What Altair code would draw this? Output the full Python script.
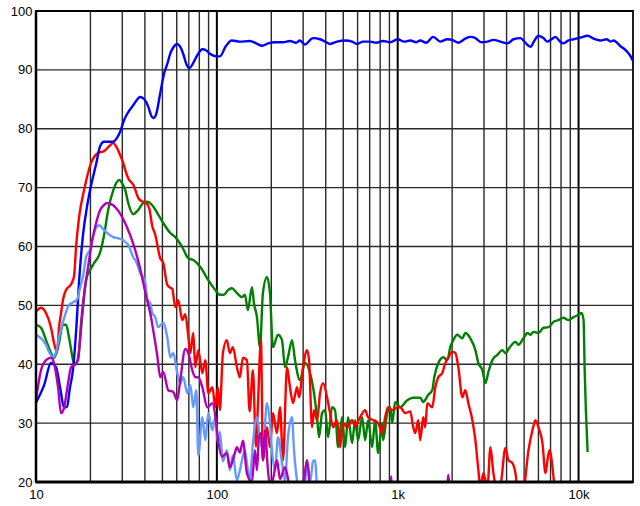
import altair as alt
import pandas as pd

# ---- frequency response curves (Hz, dB) ----
blue_hz = [10, 11.1, 12.1, 12.9, 13.6, 14.3, 14.85, 15.4, 16.0, 16.7, 17.3, 18.2, 19.2, 20.2, 21.5, 22.6,
           23.8, 25.1, 26.7, 28.1, 29.2, 30.7, 31.9, 34.5, 37.7, 39.7, 41.7, 43.4, 44.5, 46.2, 48.6, 51.2,
           53.2, 55.3, 57.4, 60.4, 62.8, 65.2, 67.8, 70.4, 74.1, 78.0, 83.1, 87.4, 92.0, 99.4,
           104, 112, 121, 134, 152, 165, 178, 192, 210, 232, 254, 274, 288, 307, 340, 372, 397, 423,
           462, 512, 560, 596, 644, 704, 760, 831, 909,
           1000, 1087, 1173, 1266, 1332, 1438, 1573, 1720, 1880, 2030, 2164, 2366, 2522, 2688, 2902,
           3133, 3382, 3698, 4042, 4364, 4771, 5085, 5420, 5704, 6002, 6397, 6732, 7085, 7455, 7846,
           8256, 8800, 9380, 10260, 11220, 12110, 13240, 14290, 15040, 15630, 16450, 17090, 17980,
           18680, 19410, 20000]
blue_db = [33.5, 36.5, 40.2, 39.5, 36, 32.6, 32.8, 36, 39, 46, 54, 62, 67, 70.5, 74, 77,
           77.8, 77.8, 77.8, 78.5, 79.5, 81.5, 82.5, 84, 85.4, 85, 83.8, 82.2, 81.8, 82.5, 86, 89.5,
           91, 92.8, 93.8, 94.4, 93.9, 92.7, 91, 90.3, 91.2, 92.5, 93.5, 93.3, 92.7, 92.3,
           92.3, 94, 95, 94.8, 94.9, 94.5, 94.1, 94.5, 94.7, 94.7, 94.9, 94.6, 95, 94.3, 95.4, 95.2, 94.8, 94.4,
           94.8, 95, 94.8, 94.4, 94.8, 94.8, 94.6, 94.9, 94.7,
           95.2, 94.8, 95, 94.7, 95, 94.6, 95.6, 94.8, 95.2, 95, 94.6, 95.3, 95.6, 95.4, 94.7,
           94.8, 95.1, 94.8, 94.5, 95.2, 95.4, 94.6, 93.9, 95, 95.8, 95.4, 94.8, 95.2, 95.6, 94.9,
           94.5, 95, 95.2, 95.5, 95.8, 95.3, 95, 95.2, 94.8, 95, 94.5, 94, 93.5,
           93, 92.3, 91.5]

red_hz = [10, 10.66, 11.36, 12.11, 12.58, 13.07, 13.41, 13.76, 14.11, 14.66, 15.63, 16.24, 16.66, 17.31,
          18.45, 20.17, 22.06, 23.81, 25.71, 26.71, 27.75, 29.2, 30.34, 31.13, 32.34, 34.47, 37.21, 39.16,
          40.68, 42.27, 43.92, 45.63, 48.64, 50.53, 53.18, 55.25, 56.68, 58.89, 61.18, 64.38, 66.89, 69.5,
          71.3, 74.08, 75.99, 78.96, 83.09, 86.33, 89.7, 94.4, 98.1,
          101.3, 103.9, 108, 113.6, 118, 122.6, 129.1, 134.1, 139.4, 146.6, 151.8, 158.3, 164.5, 168.7,
          175.3, 179.8, 189.2, 196.6, 204.3, 215, 223.4, 232.1, 244.3, 253.8, 263.7, 277.5, 284.7, 299.6,
          315.3, 323.4, 336, 344.7, 358.1, 372.1, 386.6, 406.8, 422.7, 439.2, 462.2, 480.2, 498.9, 525,
          559.6, 581.4, 619.7, 660.4, 686.2, 731.4, 779.6, 820.4, 852.4, 885.6, 932,
          1000, 1032, 1100, 1173, 1219, 1250, 1299, 1332, 1384, 1420, 1457, 1553, 1614, 1677, 1764, 1833,
          1904, 2004, 2083, 2164, 2277, 2366, 2458, 2587, 2688, 2793, 2865, 2977, 3133, 3255, 3382, 3514,
          3698, 3941, 4095, 4309, 4477, 4592, 4957, 5284, 5560, 5777, 6002, 6316, 6562, 6732, 6906, 7176,
          7361]
red_db = [48.9, 49.6, 48.7, 46.2, 43.6, 42, 46.3, 48.7, 51, 52.6, 53.6, 55, 60, 65,
          69.6, 74.2, 75.9, 76.2, 77.2, 77.6, 77, 75.5, 74.2, 73, 71.6, 70.5, 68, 67.6,
          67.4, 66.5, 63.5, 62, 58, 57.2, 53.5, 53, 52.8, 49.7, 50.9, 47.5, 48.5, 44.8,
          41.9, 45.3, 39.5, 42.4, 38.5, 40.7, 35.1, 36.1, 32.7,
          36.1, 32.2, 41.9, 44.1, 41.9, 42.9, 39.5, 37.8, 41.1, 40.7, 32, 39, 26, 33,
          44.1, 23.7, 29.3, 25.9, 31.7, 28.3, 32.7, 23.7, 39.5, 36.1, 33.4, 36.1, 34.4, 39.5,
          42.4, 40.7, 29.3, 32.2, 30.5, 35.1, 36.8, 34.4, 31.7, 29.3, 30.5, 25.9, 30, 29.3,
          30.5, 29.5, 31, 32.2, 31, 30.5, 30, 28.3, 31, 32.7, 32.2,
          32.7, 32.7, 31.7, 32, 29.3, 28.3, 30.5, 27.1, 31, 29.3, 33.4, 32.7, 36.1, 37.8, 38.5, 40.2,
          41.1, 42.1, 41.9, 39.5, 34.4, 35.6, 33.4, 30.5, 27.1, 22, 19, 21.5, 19, 25.9, 21.5, 19,
          19.5, 25.8, 23.7, 23.2, 21.5, 19, 19, 25.4, 28.8, 30.5, 29.3, 26.6, 21.5, 23.7, 25.4, 22.5,
          19]

green_hz = [10, 10.66, 11.36, 12.11, 12.58, 13.24, 14.11, 14.66, 15.24, 16.03, 16.45, 17.09, 18.21, 18.92,
            19.91, 20.96, 22.63, 23.81, 25.06, 26.71, 28.83, 30.34, 31.13, 32.34, 34.47, 36.74, 39.16,
            41.21, 43.92, 46.81, 50.53, 55.25, 58.89, 64.38, 69.5, 74.08, 81, 89.7, 98.1,
            103.9, 109.3, 115.1, 121.1, 129.1, 137.6, 142.9, 148.5, 156.3, 160.3, 166.6, 173.1, 179.8,
            189.2, 196.6, 204.3, 217.8, 229.2, 238.1, 247.4, 260.4, 270.5, 288.3, 307.3, 327.6, 340.4,
            358.1, 367.4, 381.7, 396.6, 412.1, 433.6, 450.5, 468.1, 492.6, 511.8, 531.8, 559.6, 581.4,
            604.1, 635.7, 660.4, 686.2, 722.2, 750.3, 779.6, 820.4, 830.9, 874.4, 908.5, 932, 968.4,
            1032, 1129, 1219, 1332, 1384, 1476, 1553, 1593, 1677, 1787, 1880, 1953, 2030, 2136, 2277,
            2366, 2522, 2688, 2793, 2939, 3053, 3173, 3339, 3559, 3793, 3941, 4147, 4477, 4652, 4957,
            5217, 5420, 5632, 6002, 6397, 6819, 7268, 7747, 8256, 8800, 9380,
            10000, 10390, 10660, 10800, 11220]
green_db = [46.7, 46.2, 44.1, 41.9, 41.1, 42.9, 46.7, 46.7, 44.5, 40.7, 39.9, 41.2, 49.7, 54.3,
            56, 57.2, 59, 62, 66.2, 69.5, 71.3, 70.4, 69.6, 67.4, 65.5, 66.2, 67.4,
            67.6, 67, 65.7, 64, 62.3, 61.6, 59.9, 58, 57.7, 56.5, 54.3, 52.6,
            51.8, 51.8, 52.6, 52.9, 52.1, 51.4, 51.8, 49.2, 53.1, 50.4, 48, 42.9, 52.1,
            54.8, 52.1, 42.9, 45, 44.1, 39.5, 41.2, 44.1, 40.7, 37.3, 40.2, 38.5, 36.1,
            31, 27.6, 31.7, 32.2, 27.6, 32.7, 32.2, 25.9, 31, 25.9, 31, 26.6, 30.5,
            27.1, 31, 27.1, 30.5, 25.9, 30.5, 24.9, 30, 27.1, 31.7, 32.7, 30, 33.6,
            32.7, 33.9, 34.3, 34.3, 33.6, 34.8, 35.6, 37.8, 40.2, 41.2, 40.7, 42.9, 44.1, 45, 44.4,
            45.3, 44.4, 42.4, 40.2, 39, 36.8, 38.7, 40.7, 41.6, 42.4, 41.9, 42.8, 43.8, 43.3, 44.4,
            45.3, 45, 45.5, 45.3, 46.2, 46.3, 47.2, 47.5, 47.9, 47.5, 48,
            48.4, 48.7, 47.5, 39.5, 25.1]

lightblue_hz = [10, 10.66, 11.36, 11.8, 12.42, 12.91, 13.41, 14.29, 15.24, 16.24, 16.87, 17.53, 18.21,
                18.92, 19.91, 20.69, 21.5, 22.34, 23.81, 24.74, 26.71, 28.47, 30.34, 31.53, 32.34, 34.47,
                35.81, 37.69, 40.17, 41.21, 42.81, 43.92, 45.63, 47.41, 50.53, 53.18, 55.25, 57.41, 60.41,
                62.76, 65.21, 68.62, 71.3, 74.08, 76.97, 78.96, 83.09, 86.33, 89.7, 94.4, 98.1,
                101.3, 103.9, 108, 113.6, 118, 122.6, 129.1, 134.1, 142.9, 146.6, 151.8, 158.3, 166.6,
                173.1, 179.8, 189.2, 196.6, 201.7, 209.6, 217.8, 229.2, 238.1, 247.4, 260.4, 267.1, 277.5,
                288.3, 303.4, 315.3, 327.6, 340.4, 349.2, 358.1]
lightblue_db = [45, 44.4, 43.3, 42.1, 41.2, 42.1, 44.6, 47.8, 50.1, 50.6, 51, 53, 55,
                58.2, 59.5, 61.6, 63.2, 63.6, 62.8, 62.3, 61.6, 61.4, 61.1, 60.6, 60.3, 58.2,
                57.4, 55.5, 54, 51, 50.4, 48.7, 48, 46.3, 47, 44.6, 41.2, 41.9, 38.5,
                36.8, 37.8, 35.1, 36.5, 32.7, 35.6, 24.5, 31, 27.1, 31.7, 28.8, 31,
                26.6, 28.5, 23.5, 25.4, 22, 24.5, 20.3, 22, 25.4, 23.2, 20.3, 26.6, 31,
                27.6, 25.4, 33.4, 30, 25.4, 22, 27.6, 23.2, 20.3, 27.6, 31, 25.4, 20.3,
                18, 17, 23.7, 20, 23.5, 23.7, 18]

magenta_hz = [10, 10.66, 11.36, 12.11, 12.58, 13.24, 13.76, 14.29, 15.04, 15.63, 16.24, 17.09, 17.75,
              18.45, 18.92, 19.66, 20.43, 21.5, 22.63, 23.51, 24.74, 25.71, 26.71, 27.75, 29.2, 31.93,
              34.47, 37.69, 40.68, 42.81, 44.48, 46.81, 48.64, 50.53, 53.86, 57.41, 60.41, 62.76, 66.89,
              69.5, 73.14, 75.99, 78.96, 83.09, 88.56, 94.4, 98.1,
              101.3, 106.6, 113.6, 118, 122.6, 125.8, 129.1, 134.1, 139.4, 146.6, 156.3, 162.4, 166.6,
              170.9, 175.3, 179.8, 184.5, 191.7, 196.6, 204.3, 215, 223.4, 238.1, 253.8, 288.3, 303.4,
              315.3, 327.6, 372, 897, 920, 944, 1857, 1904, 1953]
magenta_db = [34, 39, 40.7, 41.1, 40.2, 36.1, 31.7, 32.6, 36.8, 39.5, 39.9, 40.7, 47,
              52, 54.3, 57.7, 61, 64, 66.2, 66.9, 67.4, 67.3, 67, 66.5, 65.6, 63.2,
              60.5, 56.2, 51.5, 48.7, 45.8, 41.5, 37.8, 38.7, 35.6, 35.3, 33.9, 37.3, 42.6,
              41.9, 39, 37.8, 37.8, 36.1, 32.7, 33.4, 31.2,
              27.4, 24.3, 24.9, 22.5, 23.7, 24.9, 25.9, 25, 27, 21.5, 20, 25.4, 22,
              27.6, 28.3, 23.7, 28.8, 22, 19.5, 20.5, 23.7, 20.5, 22.5, 19, 17, 20.5,
              23.7, 19, 15, 15, 21, 15, 15, 21.2, 15]

# ---- grid positions ----
grid_minor_hz = [20, 30, 40, 50, 60, 70, 80, 90,
                 200, 300, 400, 500, 600, 700, 800, 900,
                 2000, 3000, 4000, 5000, 6000, 7000, 8000, 9000, 20000]
grid_decade_hz = [100, 1000, 10000]
grid_db = [30, 40, 50, 60, 70, 80, 90]
x_tick_values = [10, 100, 1000, 10000]
y_tick_values = [20, 30, 40, 50, 60, 70, 80, 90, 100]

FONT = "Liberation Sans"

x_scale = alt.Scale(type="log", domain=[10, 20000], nice=False)
y_scale = alt.Scale(domain=[20, 100], nice=False)

x_axis = alt.Axis(values=x_tick_values, grid=False, ticks=False, domain=False,
                  labelExpr="datum.value >= 1000 ? (datum.value / 1000) + 'k' : '' + datum.value",
                  labelFont=FONT, labelFontSize=13, labelColor="black", labelPadding=6,
                  labelFlush=False, labelOverlap=False, title="")
y_axis = alt.Axis(values=y_tick_values, grid=False, ticks=False, domain=False,
                  labelFont=FONT, labelFontSize=13, labelColor="black", labelPadding=4,
                  labelFlush=False, labelOverlap=False, title="")


def curve(hz, db, color):
    df = pd.DataFrame({"freq": hz, "db": db})
    return alt.Chart(df).mark_line(color=color, strokeWidth=2.4, clip=True,
                                   interpolate="monotone").encode(
        x=alt.X("freq:Q", scale=x_scale, axis=x_axis),
        y=alt.Y("db:Q", scale=y_scale, axis=y_axis),
    )


minor_rules = alt.Chart(pd.DataFrame({"freq": grid_minor_hz})).mark_rule(
    color="#2a2a2a", strokeWidth=1.4).encode(x=alt.X("freq:Q", scale=x_scale, axis=x_axis))
decade_rules = alt.Chart(pd.DataFrame({"freq": grid_decade_hz})).mark_rule(
    color="black", strokeWidth=2).encode(x=alt.X("freq:Q", scale=x_scale, axis=x_axis))
h_rules = alt.Chart(pd.DataFrame({"db": grid_db})).mark_rule(
    color="#2a2a2a", strokeWidth=1.4).encode(y=alt.Y("db:Q", scale=y_scale, axis=y_axis))

# bottom and left frame edges drawn heavier than the rest
bottom_edge = alt.Chart(pd.DataFrame({"db": [20]})).mark_rule(
    color="black", strokeWidth=3).encode(y=alt.Y("db:Q", scale=y_scale, axis=y_axis))
left_edge = alt.Chart(pd.DataFrame({"freq": [10]})).mark_rule(
    color="black", strokeWidth=2.5).encode(x=alt.X("freq:Q", scale=x_scale, axis=x_axis))

chart = alt.layer(
    minor_rules, decade_rules, h_rules,
    curve(green_hz, green_db, "#008000"),
    curve(red_hz, red_db, "#ff0000"),
    curve(blue_hz, blue_db, "#0000ff"),
    curve(lightblue_hz, lightblue_db, "#6699ff"),
    curve(magenta_hz, magenta_db, "#b300b3"),
    bottom_edge, left_edge,
).properties(
    width=597, height=471,
    autosize=alt.AutoSizeParams(type="none"),
    padding={"left": 36, "top": 11, "right": 7, "bottom": 24},
    background="white",
).configure_view(stroke="black", strokeWidth=2)

chart.save("out.html", embed_options={"renderer": "svg", "actions": False})
